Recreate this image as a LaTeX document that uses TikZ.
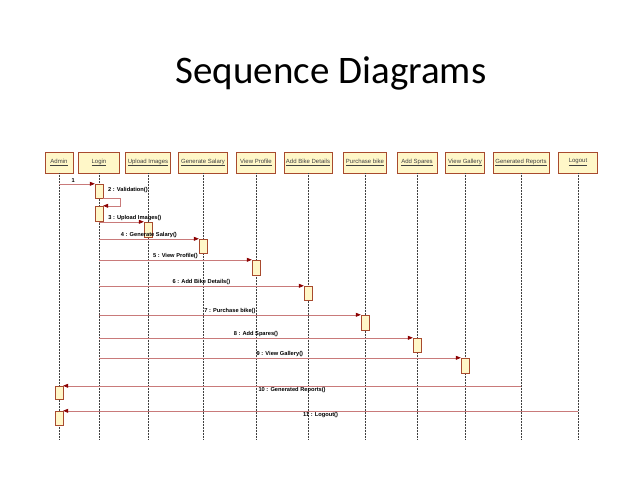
\documentclass[tikz,border=0pt]{standalone}
\usepackage{fontspec}
\setmainfont{Liberation Sans}
\newfontfamily\titlefont{Carlito}
\usepackage{xcolor}
\usetikzlibrary{arrows.meta}

\definecolor{boxfill}{HTML}{FFF7C8}
\definecolor{boxline}{HTML}{A84A2E}
\definecolor{msgline}{HTML}{C97A7A}
\definecolor{tipred}{HTML}{8B0000}

\tikzset{
  head/.style={draw=boxline, fill=boxfill, minimum height=21pt, inner sep=0pt,
    font=\fontsize{6}{6.5}\selectfont, text=black!75},
  act/.style={draw=boxline, fill=boxfill, minimum width=8pt, inner sep=0pt},
  life/.style={densely dotted, black!75, line width=0.5pt},
  msg/.style={msgline, line width=0.6pt, -{Triangle[length=5pt,width=4pt,color=tipred]}},
  lbl/.style={font=\fontsize{5.7}{6}\selectfont\bfseries, text=black, inner sep=1pt}
}

\begin{document}
\begin{tikzpicture}[x=1pt,y=-1pt]
    \useasboundingbox (0,0) rectangle (638,479);
    \node[font=\titlefont\fontsize{39}{46}\selectfont] (title) at (331,73) {Sequence Diagrams};

    % lifelines
    \foreach \name/\x/\w/\txt in {admin/59/28/Admin, login/99/41/Login,
        upload/148/45/Upload Images, gensal/203/49/Generate Salary,
        profile/256/39/View Profile, bike/308/48/Add Bike Details,
        purchase/365/43/Purchase bike, spares/417/40/Add Spares,
        gallery/465/39/View Gallery, reports/521/56/Generated Reports,
        logout/578/39/Logout}
    {
        \node[head, minimum width=\w pt] (\name) at (\x,162.5) {\underline{\txt}};
        \coordinate (\name-end) at (\x,440);
        \draw[life] (\name) -- (\name-end);
    }

    % activations
    \node[act, minimum height=14pt] (a1) at (99,191) {};
    \node[act, minimum height=15pt] (a2) at (99,213.5) {};
    \node[act, minimum height=15pt] (a3) at (148,229.5) {};
    \node[act, minimum height=14pt] (a4) at (203,246) {};
    \node[act, minimum height=15pt] (a5) at (256,267.5) {};
    \node[act, minimum height=14pt] (a6) at (308,293) {};
    \node[act, minimum height=15pt] (a7) at (365,322.5) {};
    \node[act, minimum height=14pt] (a8) at (417,345) {};
    \node[act, minimum height=15pt] (a9) at (465,365.5) {};
    \node[act, minimum height=13pt] (a10) at (59,392.5) {};
    \node[act, minimum height=14pt] (a11) at (59,418) {};

    % messages
    \draw[msg] (admin |- a1.north) -- (a1.north west) node[lbl, above, pos=0.4] {1};
    \draw[msg] (a1.south east) -- ++(17,0) |- (a2.north east);
    \node[lbl, anchor=west] (l2) at (107,190) {2 : Validation()};
    \draw[msg] (login |- a3.north) -- (a3.north west) node[lbl, above, pos=0.8] {3 : Upload Images()};
    \draw[msg] (login |- a4.north) -- (a4.north west) node[lbl, above, midway] {4 : Generate Salary()};
    \draw[msg] (login |- a5.north) -- (a5.north west) node[lbl, above, midway] {5 : View Profile()};
    \draw[msg] (login |- a6.north) -- (a6.north west) node[lbl, above, midway] {6 : Add Bike Details()};
    \draw[msg] (login |- a7.north) -- (a7.north west) node[lbl, above, midway] {7 : Purchase bike()};
    \draw[msg] (login |- a8.north) -- (a8.north west) node[lbl, above, midway] {8 : Add Spares()};
    \draw[msg] (login |- a9.north) -- (a9.north west) node[lbl, above, midway] {9 : View Gallery()};
    \draw[msg] (reports |- a10.north) -- (a10.north east) node[lbl, below, midway] {10 : Generated Reports()};
    \draw[msg] (logout |- a11.north) -- (a11.north east) node[lbl, below, midway] {11 : Logout()};
\end{tikzpicture}
\end{document}
